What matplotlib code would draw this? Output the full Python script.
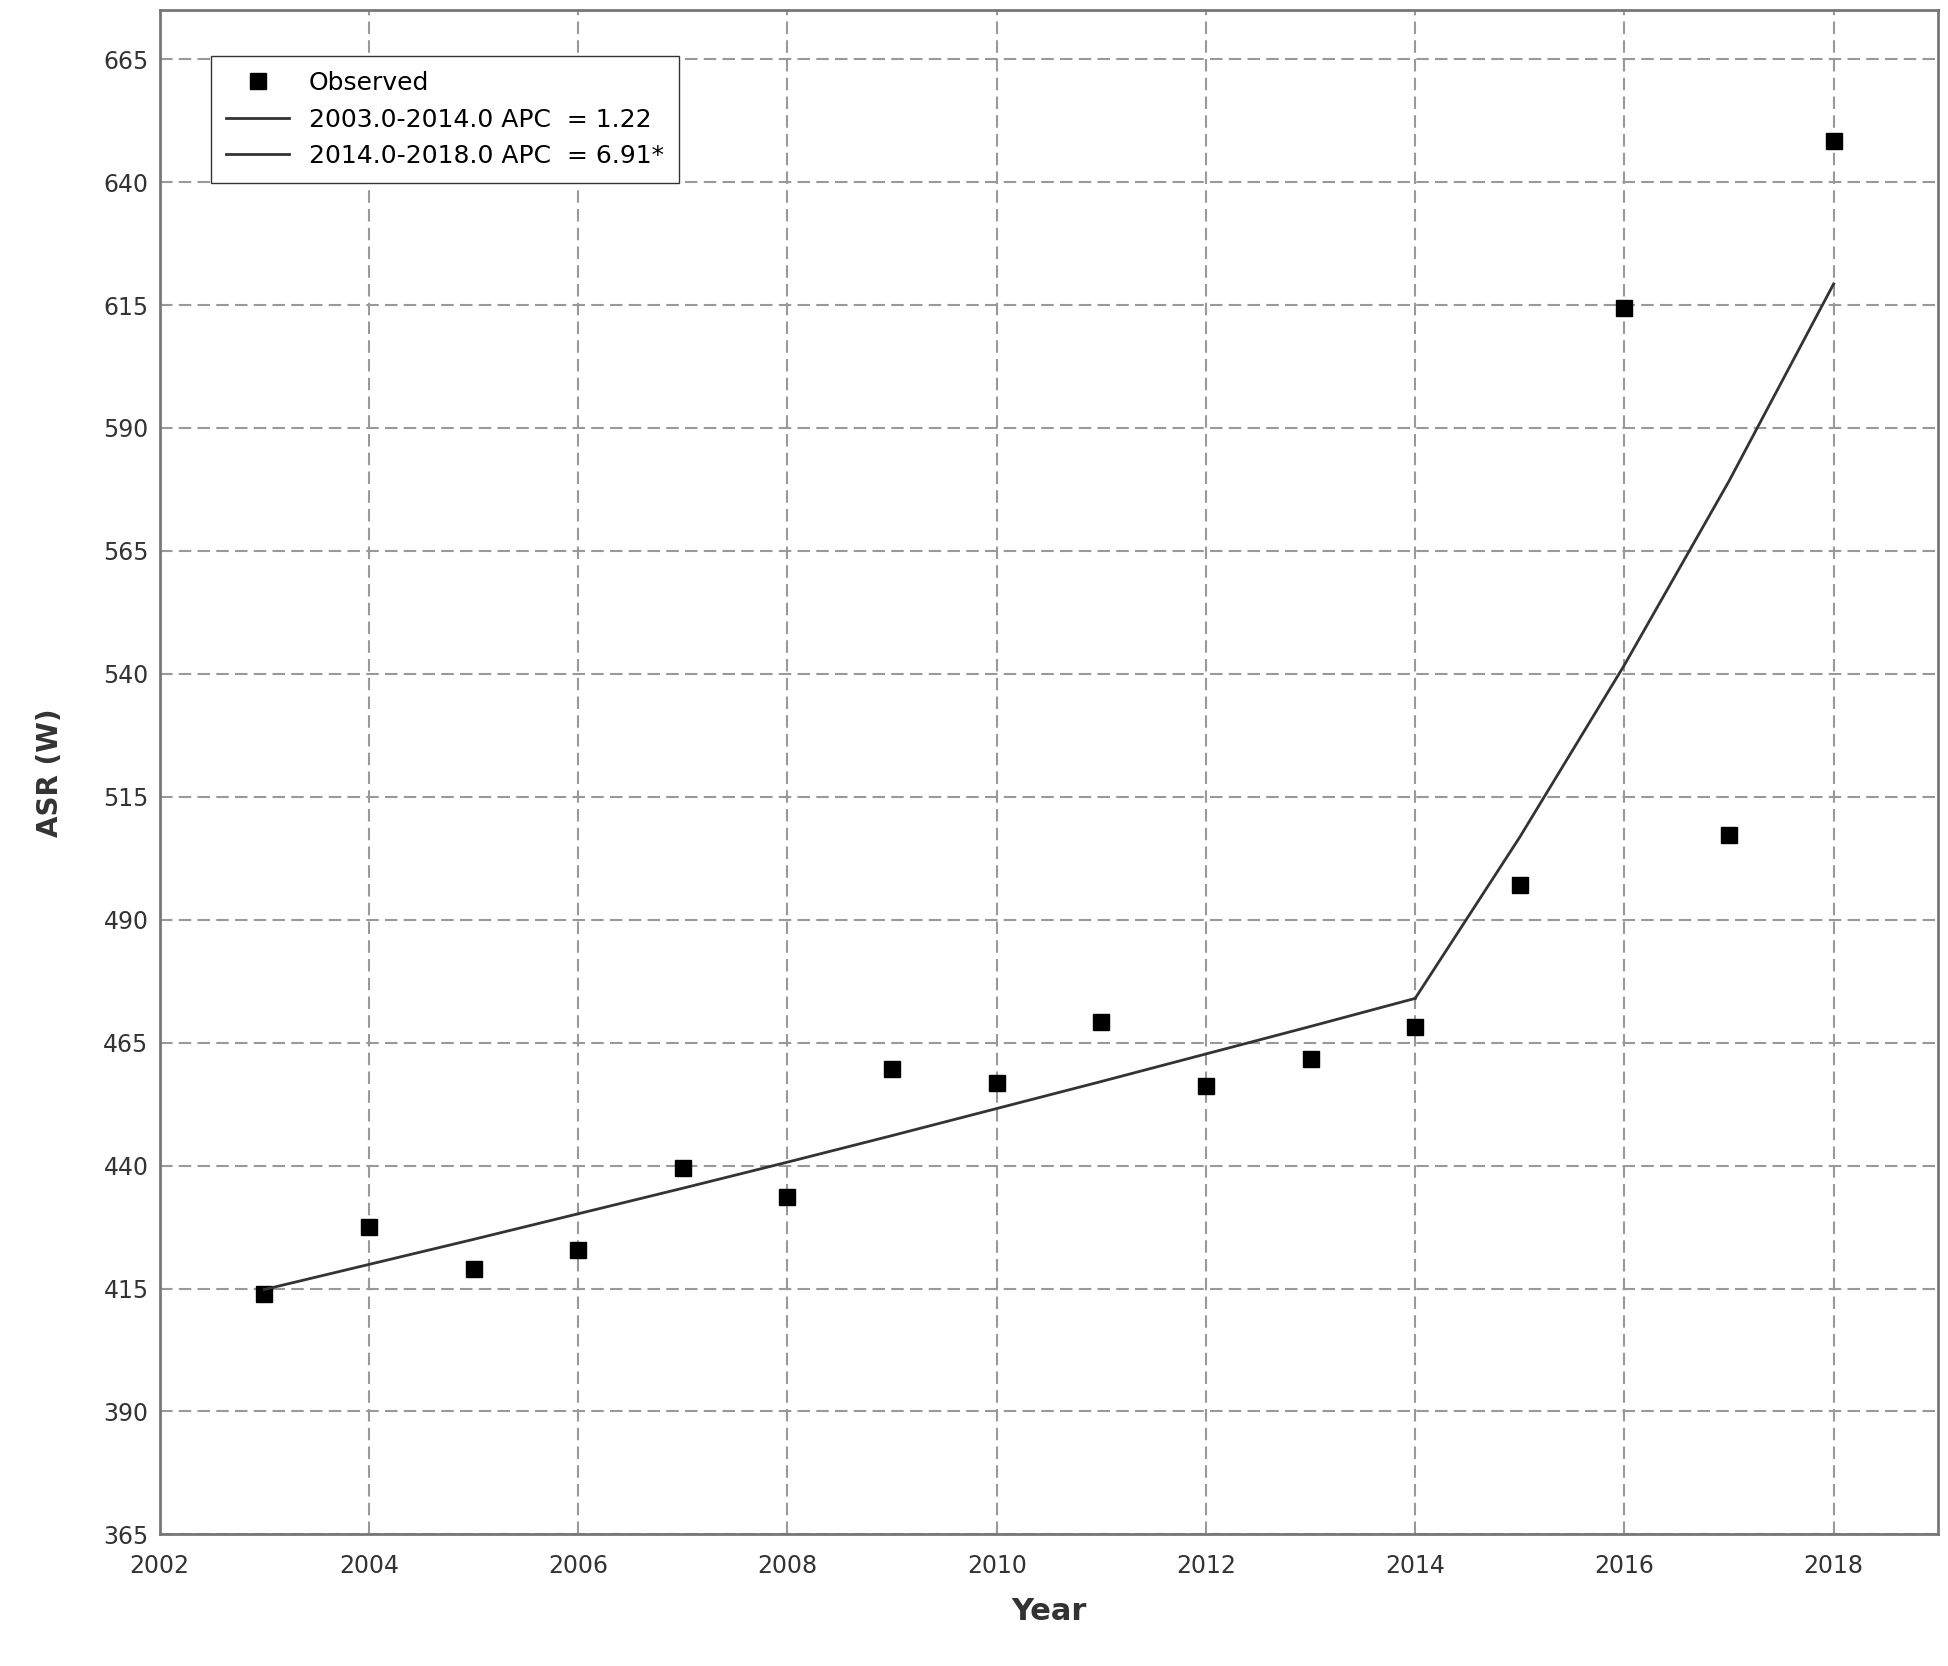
import matplotlib
matplotlib.use("Agg")
import matplotlib.pyplot as plt

years = [2003,2004,2005,2006,2007,2008,2009,2010,2011,2012,2013,2014,2015,2016,2017,2018]
observed = [413.8,427.5,418.9,422.9,439.6,433.6,459.6,456.8,469.2,456.1,461.6,468.2,497.0,614.4,507.2,648.3]
fit_years1 = [2003,2004,2005,2006,2007,2008,2009,2010,2011,2012,2013,2014]
fit_vals1 = [414.8,419.9,425.0,430.2,435.4,440.7,446.1,451.6,457.1,462.7,468.3,474.0]
fit_years2 = [2014,2015,2016,2017,2018]
fit_vals2 = [474.0,506.8,541.8,579.2,619.3]
labels = ["Observed","2003.0-2014.0 APC  = 1.22","2014.0-2018.0 APC  = 6.91*"]

fig = plt.figure(figsize=(19.48,16.66), dpi=100)
ax = fig.add_axes([0.082,0.079,0.913,0.915])
ax.plot(years, observed, 's', color='black', markersize=11, label=labels[0])
ax.plot(fit_years1, fit_vals1, '-', color='#333333', lw=2, label=labels[1])
ax.plot(fit_years2, fit_vals2, '-', color='#333333', lw=2, label=labels[2])
ax.set_xlim(2002,2019)
ax.set_ylim(365,675)
ax.set_xticks(range(2002,2019,2))
ax.set_yticks(range(365,666,25))
ax.grid(True, color='#999999', linestyle=(0,(6,3)), lw=1.5)
ax.tick_params(axis='x', pad=14)
ax.tick_params(axis='y', pad=8)
ax.tick_params(labelsize=17, colors='#333333', length=0)
for s in ax.spines.values():
    s.set_color('#777777'); s.set_linewidth(2)
ax.set_xlabel("Year", fontsize=22, fontweight='bold', color='#333333', labelpad=14)
ax.set_ylabel("ASR (W)", fontsize=20, fontweight='bold', color='#333333', labelpad=28)
leg = ax.legend(loc='upper left', bbox_to_anchor=(0.022,0.978), fontsize=18, fancybox=False,
                framealpha=1, edgecolor='#333333', handlelength=2.5, borderpad=0.6)
fig.savefig("out.png", dpi=100)
